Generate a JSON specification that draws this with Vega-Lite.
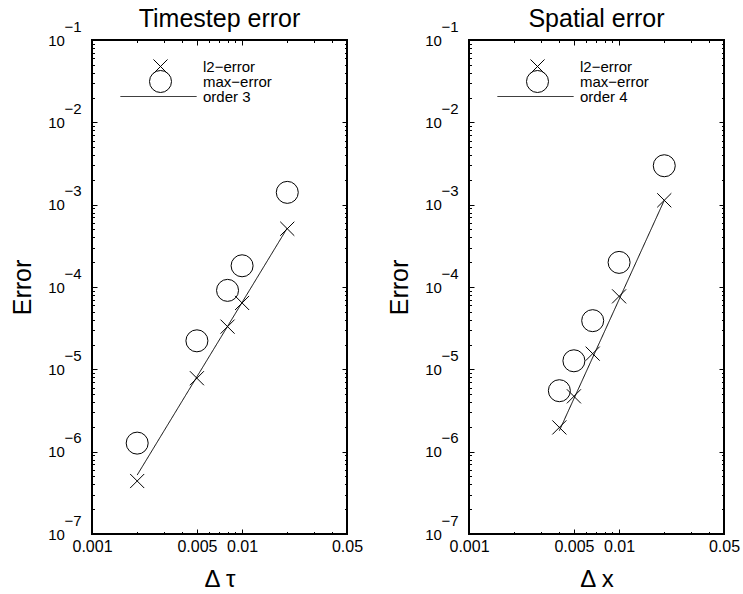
{
  "$schema": "https://vega.github.io/schema/vega-lite/v6.json",
  "padding": {"left": 9, "top": 6, "right": 5, "bottom": 0},
  "bounds": "flush",
  "spacing": 122,
  "config": {
    "font": "Liberation Sans",
    "view": {"stroke": "black", "strokeWidth": 2},
    "axis": {
      "grid": false, "domain": false, "tickColor": "black", "tickWidth": 1,
      "labelColor": "black", "titleColor": "black",
      "labelFont": "Liberation Sans", "titleFont": "Liberation Sans", "titleFontWeight": "normal",
      "labelOverlap": false, "labelBound": false, "labelFlush": false
    },
    "title": {"fontSize": 25, "fontWeight": "normal", "font": "Liberation Sans", "color": "black", "anchor": "middle", "baseline": "alphabetic", "offset": -13},
    "legend": {"padding": 0, "labelFontSize": 15, "labelFont": "Liberation Sans", "labelColor": "black", "symbolSize": 484, "symbolStrokeWidth": 1, "symbolStrokeColor": "black", "symbolFillColor": "transparent", "labelOffset": 31, "orient": "none", "title": null}
  },
  "datasets": {
    "ptsT": [
      {"step": 0.002, "error": 4.4e-7, "series": "l2−error"},
      {"step": 0.005, "error": 7.8e-6, "series": "l2−error"},
      {"step": 0.008, "error": 3.3e-5, "series": "l2−error"},
      {"step": 0.01, "error": 6.4e-5, "series": "l2−error"},
      {"step": 0.02, "error": 5.1e-4, "series": "l2−error"},
      {"step": 0.002, "error": 1.27e-6, "series": "max−error"},
      {"step": 0.005, "error": 2.22e-5, "series": "max−error"},
      {"step": 0.008, "error": 9.1e-5, "series": "max−error"},
      {"step": 0.01, "error": 1.81e-4, "series": "max−error"},
      {"step": 0.02, "error": 1.41e-3, "series": "max−error"}
    ],
    "lineT": [
      {"step": 0.002, "error": 5.2e-7, "series": "order 3"},
      {"step": 0.02, "error": 5.2e-4, "series": "order 3"}
    ],
    "ptsX": [
      {"step": 0.004, "error": 1.97e-6, "series": "l2−error"},
      {"step": 0.005, "error": 4.7e-6, "series": "l2−error"},
      {"step": 0.00667, "error": 1.55e-5, "series": "l2−error"},
      {"step": 0.01, "error": 7.7e-5, "series": "l2−error"},
      {"step": 0.02, "error": 1.13e-3, "series": "l2−error"},
      {"step": 0.004, "error": 5.5e-6, "series": "max−error"},
      {"step": 0.005, "error": 1.27e-5, "series": "max−error"},
      {"step": 0.00667, "error": 3.9e-5, "series": "max−error"},
      {"step": 0.01, "error": 1.99e-4, "series": "max−error"},
      {"step": 0.02, "error": 2.97e-3, "series": "max−error"}
    ],
    "lineX": [
      {"step": 0.004, "error": 1.8e-6, "series": "order 4"},
      {"step": 0.02, "error": 1.13e-3, "series": "order 4"}
    ]
  },
  "hconcat": [
    {
      "title": "Timestep error",
      "width": 255, "height": 494,
      "layer": [
        {
          "data": {"name": "lineT"},
          "mark": {"type": "line", "color": "black", "strokeWidth": 1},
          "encoding": {
            "x": {"field": "step", "type": "quantitative",
              "scale": {"type": "log", "domain": [0.001, 0.05], "nice": false},
              "axis": {"orient": "top", "title": null, "labels": false,
                "values": [0.001, 0.002, 0.003, 0.004, 0.005, 0.006, 0.007, 0.008, 0.009, 0.01, 0.02, 0.03, 0.04, 0.05],
                "tickSize": {"condition": {"test": "datum.value == 0.001 || datum.value == 0.005 || datum.value == 0.01 || datum.value == 0.05", "value": -5}, "value": -2.5}}},
            "y": {"field": "error", "type": "quantitative",
              "scale": {"type": "log", "domain": [1e-7, 0.1], "nice": false},
              "axis": {"orient": "right", "title": null, "labels": false,
                "values": [1e-7, 2e-7, 3e-7, 4e-7, 5e-7, 6e-7, 7e-7, 8e-7, 9e-7, 1e-6, 2e-6, 3e-6, 4e-6, 5e-6, 6e-6, 7e-6, 8e-6, 9e-6, 1e-5, 2e-5, 3e-5, 4e-5, 5e-5, 6e-5, 7e-5, 8e-5, 9e-5, 0.0001, 0.0002, 0.0003, 0.0004, 0.0005, 0.0006, 0.0007, 0.0008, 0.0009, 0.001, 0.002, 0.003, 0.004, 0.005, 0.006, 0.007, 0.008, 0.009, 0.01, 0.02, 0.03, 0.04, 0.05, 0.06, 0.07, 0.08, 0.09, 0.1],
                "tickSize": {"condition": {"test": "abs(log(datum.value)/LN10 - round(log(datum.value)/LN10)) < 1e-6", "value": -5}, "value": -2.5}}},
            "strokeDash": {"field": "series", "type": "nominal",
              "scale": {"domain": ["order 3"], "range": [[1, 0]]},
              "legend": {"legendX": 28, "legendY": 18, "symbolSize": 5776, "symbolType": "stroke", "labelOffset": 6}}
          }
        },
        {
          "data": {"name": "ptsT"},
          "transform": [{"filter": "datum.series == 'l2−error'"}],
          "mark": {"type": "point", "filled": false, "color": "black", "strokeWidth": 1, "size": 484, "opacity": 1},
          "encoding": {
            "x": {"field": "step", "type": "quantitative",
              "scale": {"type": "log", "domain": [0.001, 0.05], "nice": false},
              "axis": {"orient": "bottom", "title": "Δ τ", "titleFontSize": 24, "titleY": 52, "titleBaseline": "alphabetic",
                "values": [0.001, 0.002, 0.003, 0.004, 0.005, 0.006, 0.007, 0.008, 0.009, 0.01, 0.02, 0.03, 0.04, 0.05],
                "labelExpr": "datum.value == 0.001 ? '0.001' : datum.value == 0.005 ? '0.005' : datum.value == 0.01 ? '0.01' : datum.value == 0.05 ? '0.05' : ''",
                "labelFontSize": 16, "labelBaseline": "alphabetic", "labelPadding": 22,
                "tickSize": {"condition": {"test": "datum.value == 0.001 || datum.value == 0.005 || datum.value == 0.01 || datum.value == 0.05", "value": -5}, "value": -2.5}}},
            "y": {"field": "error", "type": "quantitative",
              "scale": {"type": "log", "domain": [1e-7, 0.1], "nice": false},
              "axis": {"orient": "left", "title": "Error", "titleFontSize": 25, "titleX": -62, "titleY": 247, "titleAngle": -90, "titleAlign": "center", "titleBaseline": "alphabetic",
                "values": [1e-7, 2e-7, 3e-7, 4e-7, 5e-7, 6e-7, 7e-7, 8e-7, 9e-7, 1e-6, 2e-6, 3e-6, 4e-6, 5e-6, 6e-6, 7e-6, 8e-6, 9e-6, 1e-5, 2e-5, 3e-5, 4e-5, 5e-5, 6e-5, 7e-5, 8e-5, 9e-5, 0.0001, 0.0002, 0.0003, 0.0004, 0.0005, 0.0006, 0.0007, 0.0008, 0.0009, 0.001, 0.002, 0.003, 0.004, 0.005, 0.006, 0.007, 0.008, 0.009, 0.01, 0.02, 0.03, 0.04, 0.05, 0.06, 0.07, 0.08, 0.09, 0.1],
                "labelExpr": "abs(log(datum.value)/LN10 - round(log(datum.value)/LN10)) < 1e-6 ? ['−' + abs(round(log(datum.value)/LN10)), '10\u00a0\u00a0\u00a0\u00a0\u200b'] : ''",
                "labelFontSize": 15, "labelAlign": "right", "labelBaseline": "alphabetic", "labelLineHeight": 14, "labelOffset": -9, "labelPadding": 16,
                "tickSize": {"condition": {"test": "abs(log(datum.value)/LN10 - round(log(datum.value)/LN10)) < 1e-6", "value": -5}, "value": -2.5}}},
            "shape": {"field": "series", "type": "nominal",
              "scale": {"domain": ["l2−error"], "range": ["M-0.64,-0.64L0.64,0.64M-0.64,0.64L0.64,-0.64"]},
              "legend": {"legendX": 57, "legendY": 15}}
          }
        },
        {
          "data": {"name": "ptsT"},
          "transform": [{"filter": "datum.series == 'max−error'"}],
          "mark": {"type": "point", "filled": false, "color": "black", "strokeWidth": 1, "size": 484, "opacity": 1},
          "encoding": {
            "x": {"field": "step", "type": "quantitative", "scale": {"type": "log", "domain": [0.001, 0.05], "nice": false}, "axis": null},
            "y": {"field": "error", "type": "quantitative", "scale": {"type": "log", "domain": [1e-7, 0.1], "nice": false}, "axis": null},
            "shape": {"field": "series", "type": "nominal",
              "scale": {"domain": ["max−error"], "range": ["circle"]},
              "legend": {"legendX": 57, "legendY": 30}}
          }
        }
      ],
      "resolve": {"axis": {"x": "independent", "y": "independent"}, "scale": {"shape": "independent", "strokeDash": "independent"}, "legend": {"shape": "independent", "strokeDash": "independent"}}
    },
    {
      "title": "Spatial error",
      "width": 255, "height": 494,
      "layer": [
        {
          "data": {"name": "lineX"},
          "mark": {"type": "line", "color": "black", "strokeWidth": 1},
          "encoding": {
            "x": {"field": "step", "type": "quantitative",
              "scale": {"type": "log", "domain": [0.001, 0.05], "nice": false},
              "axis": {"orient": "top", "title": null, "labels": false,
                "values": [0.001, 0.002, 0.003, 0.004, 0.005, 0.006, 0.007, 0.008, 0.009, 0.01, 0.02, 0.03, 0.04, 0.05],
                "tickSize": {"condition": {"test": "datum.value == 0.001 || datum.value == 0.005 || datum.value == 0.01 || datum.value == 0.05", "value": -5}, "value": -2.5}}},
            "y": {"field": "error", "type": "quantitative",
              "scale": {"type": "log", "domain": [1e-7, 0.1], "nice": false},
              "axis": {"orient": "right", "title": null, "labels": false,
                "values": [1e-7, 2e-7, 3e-7, 4e-7, 5e-7, 6e-7, 7e-7, 8e-7, 9e-7, 1e-6, 2e-6, 3e-6, 4e-6, 5e-6, 6e-6, 7e-6, 8e-6, 9e-6, 1e-5, 2e-5, 3e-5, 4e-5, 5e-5, 6e-5, 7e-5, 8e-5, 9e-5, 0.0001, 0.0002, 0.0003, 0.0004, 0.0005, 0.0006, 0.0007, 0.0008, 0.0009, 0.001, 0.002, 0.003, 0.004, 0.005, 0.006, 0.007, 0.008, 0.009, 0.01, 0.02, 0.03, 0.04, 0.05, 0.06, 0.07, 0.08, 0.09, 0.1],
                "tickSize": {"condition": {"test": "abs(log(datum.value)/LN10 - round(log(datum.value)/LN10)) < 1e-6", "value": -5}, "value": -2.5}}},
            "strokeDash": {"field": "series", "type": "nominal",
              "scale": {"domain": ["order 4"], "range": [[1, 0]]},
              "legend": {"legendX": 28, "legendY": 18, "symbolSize": 5776, "symbolType": "stroke", "labelOffset": 6}}
          }
        },
        {
          "data": {"name": "ptsX"},
          "transform": [{"filter": "datum.series == 'l2−error'"}],
          "mark": {"type": "point", "filled": false, "color": "black", "strokeWidth": 1, "size": 484, "opacity": 1},
          "encoding": {
            "x": {"field": "step", "type": "quantitative",
              "scale": {"type": "log", "domain": [0.001, 0.05], "nice": false},
              "axis": {"orient": "bottom", "title": "Δ x", "titleFontSize": 24, "titleY": 52, "titleBaseline": "alphabetic",
                "values": [0.001, 0.002, 0.003, 0.004, 0.005, 0.006, 0.007, 0.008, 0.009, 0.01, 0.02, 0.03, 0.04, 0.05],
                "labelExpr": "datum.value == 0.001 ? '0.001' : datum.value == 0.005 ? '0.005' : datum.value == 0.01 ? '0.01' : datum.value == 0.05 ? '0.05' : ''",
                "labelFontSize": 16, "labelBaseline": "alphabetic", "labelPadding": 22,
                "tickSize": {"condition": {"test": "datum.value == 0.001 || datum.value == 0.005 || datum.value == 0.01 || datum.value == 0.05", "value": -5}, "value": -2.5}}},
            "y": {"field": "error", "type": "quantitative",
              "scale": {"type": "log", "domain": [1e-7, 0.1], "nice": false},
              "axis": {"orient": "left", "title": "Error", "titleFontSize": 25, "titleX": -62, "titleY": 247, "titleAngle": -90, "titleAlign": "center", "titleBaseline": "alphabetic",
                "values": [1e-7, 2e-7, 3e-7, 4e-7, 5e-7, 6e-7, 7e-7, 8e-7, 9e-7, 1e-6, 2e-6, 3e-6, 4e-6, 5e-6, 6e-6, 7e-6, 8e-6, 9e-6, 1e-5, 2e-5, 3e-5, 4e-5, 5e-5, 6e-5, 7e-5, 8e-5, 9e-5, 0.0001, 0.0002, 0.0003, 0.0004, 0.0005, 0.0006, 0.0007, 0.0008, 0.0009, 0.001, 0.002, 0.003, 0.004, 0.005, 0.006, 0.007, 0.008, 0.009, 0.01, 0.02, 0.03, 0.04, 0.05, 0.06, 0.07, 0.08, 0.09, 0.1],
                "labelExpr": "abs(log(datum.value)/LN10 - round(log(datum.value)/LN10)) < 1e-6 ? ['−' + abs(round(log(datum.value)/LN10)), '10\u00a0\u00a0\u00a0\u00a0\u200b'] : ''",
                "labelFontSize": 15, "labelAlign": "right", "labelBaseline": "alphabetic", "labelLineHeight": 14, "labelOffset": -9, "labelPadding": 16,
                "tickSize": {"condition": {"test": "abs(log(datum.value)/LN10 - round(log(datum.value)/LN10)) < 1e-6", "value": -5}, "value": -2.5}}},
            "shape": {"field": "series", "type": "nominal",
              "scale": {"domain": ["l2−error"], "range": ["M-0.64,-0.64L0.64,0.64M-0.64,0.64L0.64,-0.64"]},
              "legend": {"legendX": 57, "legendY": 15}}
          }
        },
        {
          "data": {"name": "ptsX"},
          "transform": [{"filter": "datum.series == 'max−error'"}],
          "mark": {"type": "point", "filled": false, "color": "black", "strokeWidth": 1, "size": 484, "opacity": 1},
          "encoding": {
            "x": {"field": "step", "type": "quantitative", "scale": {"type": "log", "domain": [0.001, 0.05], "nice": false}, "axis": null},
            "y": {"field": "error", "type": "quantitative", "scale": {"type": "log", "domain": [1e-7, 0.1], "nice": false}, "axis": null},
            "shape": {"field": "series", "type": "nominal",
              "scale": {"domain": ["max−error"], "range": ["circle"]},
              "legend": {"legendX": 57, "legendY": 30}}
          }
        }
      ],
      "resolve": {"axis": {"x": "independent", "y": "independent"}, "scale": {"shape": "independent", "strokeDash": "independent"}, "legend": {"shape": "independent", "strokeDash": "independent"}}
    }
  ],
  "resolve": {"scale": {"shape": "independent", "strokeDash": "independent"}, "legend": {"shape": "independent", "strokeDash": "independent"}}
}
